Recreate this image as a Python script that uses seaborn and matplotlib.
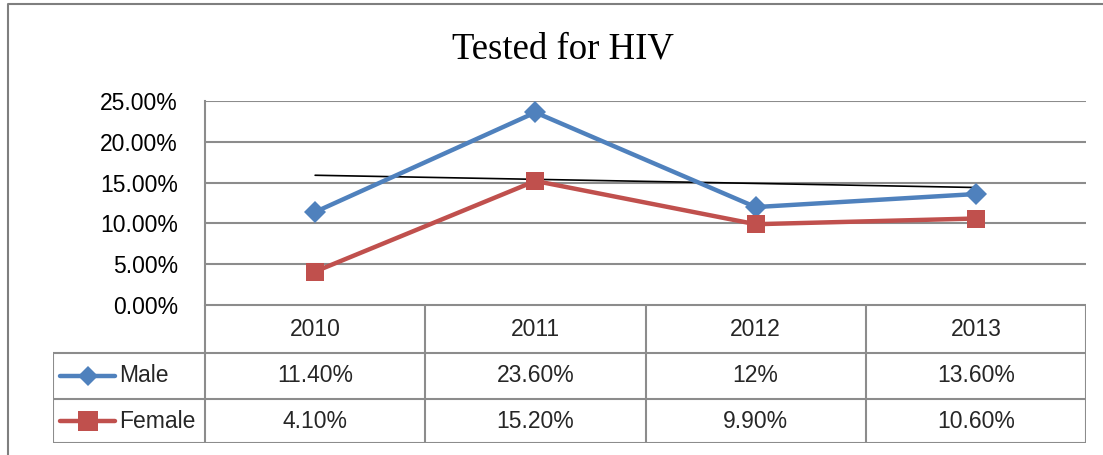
import numpy as np
import pandas as pd
import matplotlib
matplotlib.use("Agg")
import matplotlib.pyplot as plt
import seaborn as sns

years = ["2010", "2011", "2012", "2013"]
male = [11.4, 23.6, 12.0, 13.6]
female = [4.1, 15.2, 9.9, 10.6]
male_labels = ["11.40%", "23.60%", "12%", "13.60%"]
female_labels = ["4.10%", "15.20%", "9.90%", "10.60%"]
series_names = ["Male", "Female"]
yticks = [0, 5, 10, 15, 20, 25]
title = "Tested for HIV"

blue = "#4F81BD"
red = "#C0504D"
grid_c = "#8C8C8C"

sns.set_theme(style="white")
plt.rcParams['font.family'] = ['Liberation Sans', 'DejaVu Sans']

W, H = 1103, 455
fig = plt.figure(figsize=(W / 100, H / 100), dpi=100)

def px(x0, y0, x1, y1):
    return [x0 / W, 1 - y1 / H, (x1 - x0) / W, (y1 - y0) / H]

# outer chart border
border = fig.add_axes([0, 0, 1, 1])
border.set_xlim(0, W)
border.set_ylim(H, 0)
border.axis("off")
border.plot([8, 8, 1103], [455, 4, 4], color="#7F7F7F", lw=1.5)

fig.text(563 / W, 1 - 49 / H, title, family="Liberation Serif", fontsize=26.5,
         ha="center", va="center", color="black")

# main plot area
ax = fig.add_axes(px(205, 101, 1086, 305))
x = np.arange(len(years))
df = pd.DataFrame({"x": np.concatenate([x, x]),
                   "v": male + female,
                   "s": [series_names[0]] * 4 + [series_names[1]] * 4})
sns.lineplot(data=df, x="x", y="v", hue="s", style="s",
             palette={"Male": blue, "Female": red},
             markers={"Male": "D", "Female": "s"}, dashes=False,
             lw=3.2, markersize=11, markeredgewidth=0, ax=ax, legend=False)
for ln in ax.get_lines():
    if ln.get_marker() == "s":
        ln.set_markersize(13)
# linear trendline of Male
coef = np.polyfit(x, male, 1)
ax.plot(x, np.polyval(coef, x), color="black", lw=1.2, zorder=1)

ax.set_xlim(-0.5, 3.5)
ax.set_ylim(0, 25)
ax.set_yticks(yticks)
ax.set_yticklabels([f"{t:.2f}%" for t in yticks], fontsize=16.5)
ax.set_xticks([])
ax.set_xlabel("")
ax.set_ylabel("")
for t in yticks:
    ax.axhline(t, color=grid_c, lw=1.5, zorder=0)
for s in ["top", "right", "bottom"]:
    ax.spines[s].set_visible(False)
ax.spines["left"].set_color(grid_c)
ax.spines["left"].set_linewidth(1.5)
ax.tick_params(axis="y", length=0, pad=19.5, colors="black")
ax.patch.set_alpha(0)

# data table
tab = fig.add_axes(px(53, 305, 1086, 443))
left = -0.5 - 152 / 220
tab.set_xlim(left, 3.5)
tab.set_ylim(443, 305)
tab.axis("off")
lc = dict(color=grid_c, lw=1.5)
rows = [305, 353, 399, 443]
tab.plot([-0.5, 3.5], [rows[0], rows[0]], **lc)
for r in rows[1:]:
    tab.plot([left, 3.5], [r, r], **lc)
for b in [-0.5, 0.5, 1.5, 2.5, 3.5]:
    tab.plot([b, b], [rows[0], rows[3]], **lc)
tab.plot([left, left], [rows[1], rows[3]], **lc)

fs = 16.5
for i, yr in enumerate(years):
    tab.text(i, (rows[0] + rows[1]) / 2, yr, ha="center", va="center", fontsize=fs)
    tab.text(i, (rows[1] + rows[2]) / 2, male_labels[i], ha="center", va="center", fontsize=fs)
    tab.text(i, (rows[2] + rows[3]) / 2, female_labels[i], ha="center", va="center", fontsize=fs)

for name, col, mk, ms, r0, r1 in [(series_names[0], blue, "D", 10, rows[1], rows[2]),
                                  (series_names[1], red, "s", 14, rows[2], rows[3])]:
    yc = (r0 + r1) / 2
    x0 = left + 7 / 220
    x1 = left + 62 / 220
    tab.plot([x0, x1], [yc, yc], color=col, lw=3.2, solid_capstyle="round")
    tab.plot([(x0 + x1) / 2], [yc], marker=mk, color=col, markersize=ms, markeredgewidth=0)
    tab.text(x1 + 4 / 220, yc, name, ha="left", va="center", fontsize=fs)

fig.savefig("out.png", dpi=100)
